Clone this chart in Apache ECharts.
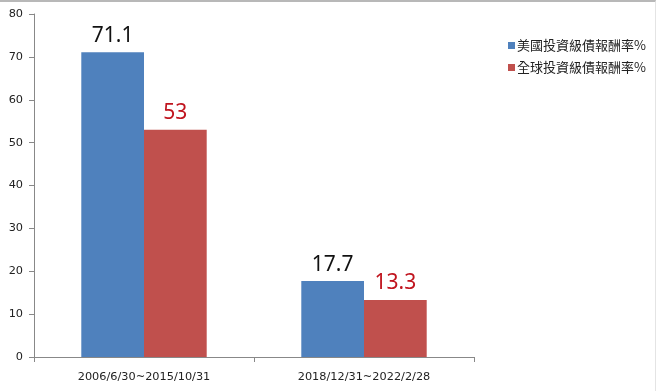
<!DOCTYPE html>
<html><head><meta charset="utf-8">
<script src="https://cdn.jsdelivr.net/npm/echarts@6/dist/echarts.min.js"></script>
<style>
html,body{margin:0;padding:0;background:#fff;}
#c{width:656px;height:391px;box-sizing:border-box;border-top:2px solid #b8b8b8;border-right:1px solid #e4e4e4;}
</style></head><body>
<div id="c"></div>
<script>
const categories = ['2006/6/30~2015/10/31', '2018/12/31~2022/2/28'];
const usValues = [71.1, 17.7];
const globalValues = [53, 13.3];
const seriesNames = ['美國投資級債報酬率%', '全球投資級債報酬率%'];
const yTicks = {min: 0, max: 80, interval: 10};

const chart = echarts.init(document.getElementById('c'), null, {renderer: 'canvas'});
const axisFont = {fontFamily: 'DejaVu Sans', fontSize: 11.3, color: '#222'};
chart.setOption({
  animation: false,
  grid: {left: 34, right: 181, top: 12, bottom: 34},
  legend: {
    orient: 'vertical', left: 503, top: 32, itemWidth: 7, itemHeight: 7, itemGap: 9,
    icon: 'rect',
    textStyle: {fontFamily: 'Noto Sans CJK TC', fontSize: 13, color: '#222', padding: [0,0,0,-3]},
    data: seriesNames
  },
  xAxis: {
    type: 'category', data: categories,
    axisLine: {lineStyle: {color: '#888'}},
    axisTick: {show: true, length: 5, lineStyle: {color: '#888'}},
    axisLabel: Object.assign({margin: 15}, axisFont)
  },
  yAxis: {
    type: 'value', min: yTicks.min, max: yTicks.max, interval: yTicks.interval,
    splitLine: {show: false},
    axisLine: {show: true, lineStyle: {color: '#888'}},
    axisTick: {show: true, length: 5, lineStyle: {color: '#888'}},
    axisLabel: Object.assign({margin: 11}, axisFont)
  },
  series: [
    {name: seriesNames[0], type: 'bar', data: usValues, barGap: '0%', barCategoryGap: '43%',
     itemStyle: {color: '#4F81BD'},
     label: {show: true, position: 'top', distance: 6, fontFamily: 'Noto Sans', fontSize: 21, color: '#111'}},
    {name: seriesNames[1], type: 'bar', data: globalValues,
     itemStyle: {color: '#C0504D'},
     label: {show: true, position: 'top', distance: 6, fontFamily: 'Noto Sans', fontSize: 21, color: '#C0141E'}}
  ]
});
</script></body></html>
